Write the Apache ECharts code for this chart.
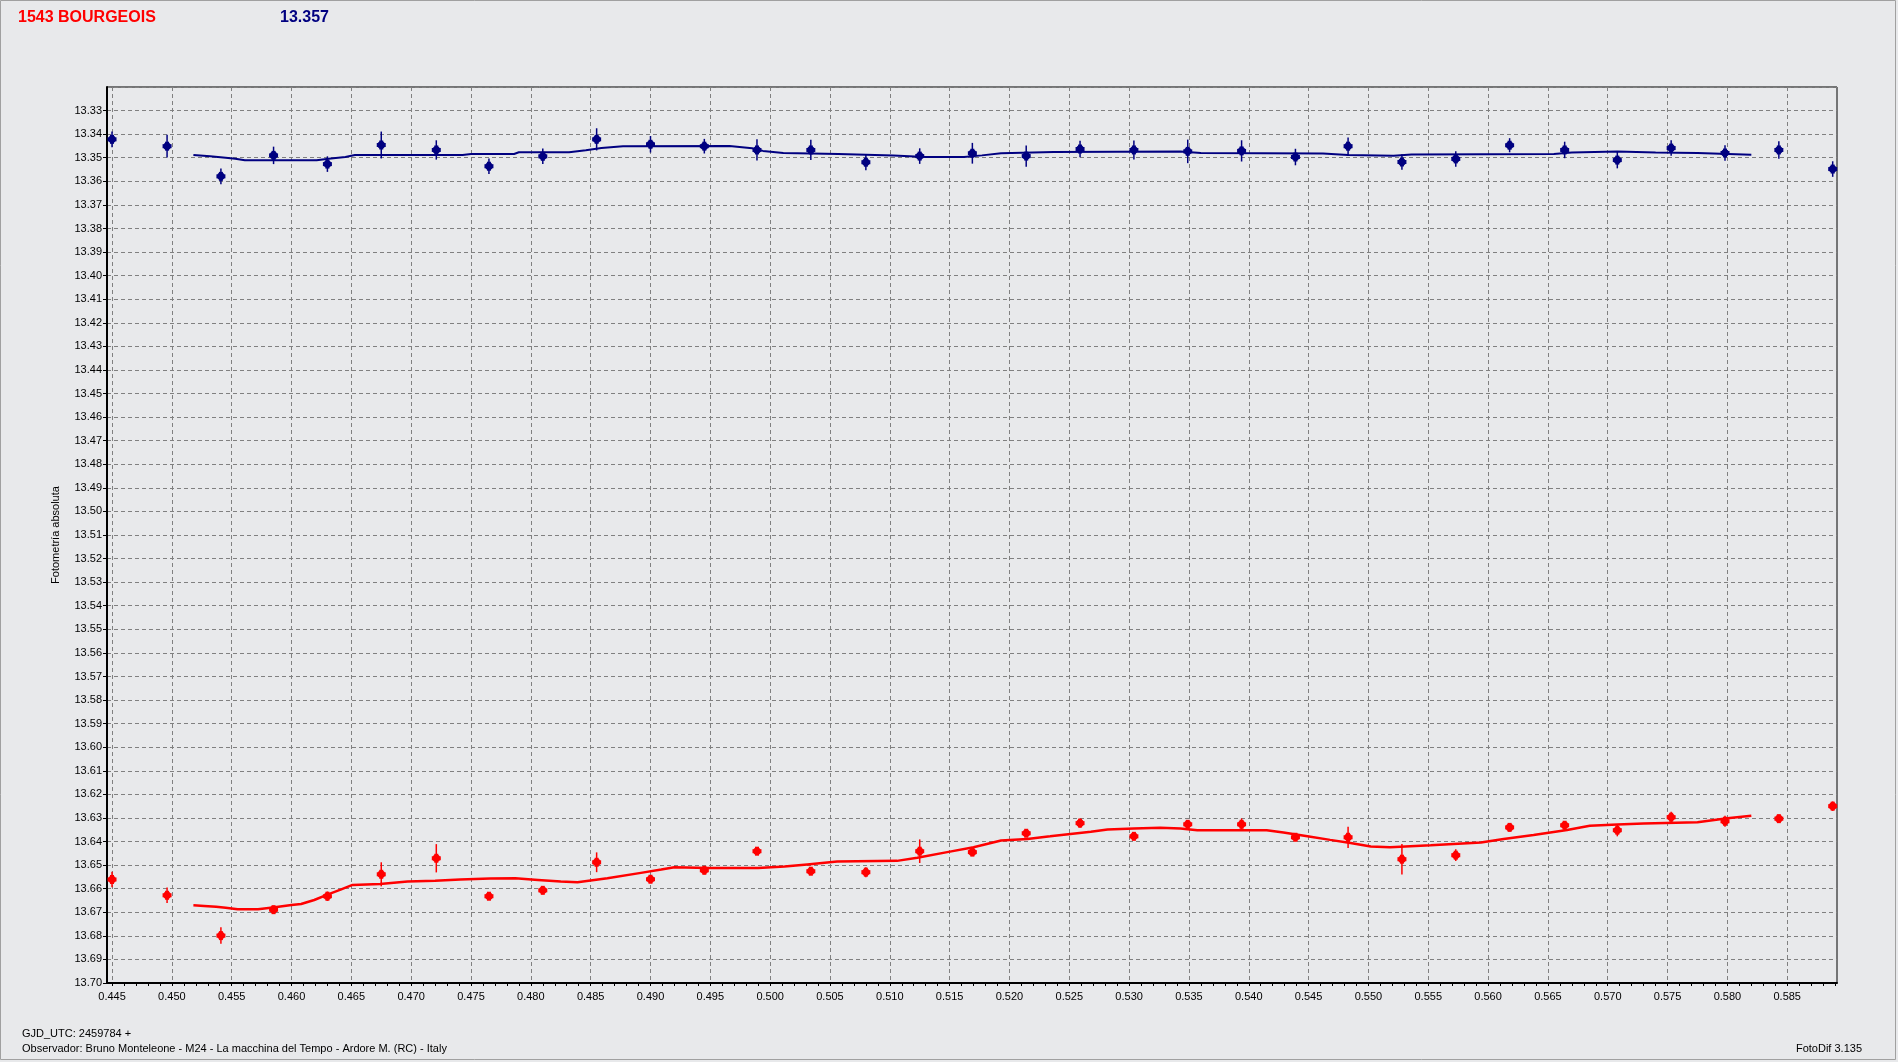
<!DOCTYPE html>
<html><head><meta charset="utf-8">
<script src="https://cdn.jsdelivr.net/npm/echarts@6/dist/echarts.min.js"></script>
<style>html,body{margin:0;padding:0;background:#E8E9EB;} #c{width:1898px;height:1062px;}</style>
</head><body><div id="c"></div>
<script>
// Observation times (GJD_UTC - 2459784)
const times = [0.4450,0.4496,0.4541,0.4585,0.4630,0.4675,0.4721,0.4765,0.4810,0.4855,0.4900,0.4945,0.4989,0.5034,0.5080,0.5125,0.5169,0.5214,0.5259,0.5304,0.5349,0.5394,0.5439,0.5483,0.5528,0.5573,0.5618,0.5664,0.5708,0.5753,0.5798,0.5843,0.5888];
// Target (red) magnitudes and errors
const redMag = [13.6561,13.6628,13.6799,13.6689,13.6632,13.6539,13.6471,13.6632,13.6607,13.6488,13.6560,13.6522,13.6441,13.6526,13.6530,13.6441,13.6445,13.6365,13.6322,13.6378,13.6327,13.6327,13.6382,13.6382,13.6475,13.6458,13.6340,13.6331,13.6352,13.6297,13.6314,13.6303,13.6250];
const redErr = [0.0033,0.0033,0.0035,0.0014,0.0020,0.0051,0.0060,0.0010,0.0016,0.0042,0.0013,0.0017,0.0016,0.0014,0.0021,0.0050,0.0014,0.0016,0.0020,0.0014,0.0016,0.0025,0.0014,0.0045,0.0065,0.0025,0.0014,0.0018,0.0026,0.0023,0.0023,0.0014,0.0020];
// Comparison (blue) magnitudes and errors
const blueMag = [13.3422,13.3451,13.3579,13.3490,13.3527,13.3446,13.3467,13.3536,13.3494,13.3422,13.3443,13.3451,13.3467,13.3467,13.3519,13.3493,13.3481,13.3493,13.3463,13.3467,13.3473,13.3471,13.3497,13.3451,13.3518,13.3505,13.3447,13.3467,13.3510,13.3459,13.3480,13.3467,13.3548];
const blueErr = [0.0033,0.0048,0.0033,0.0037,0.0033,0.0057,0.0041,0.0033,0.0033,0.0047,0.0035,0.0031,0.0045,0.0043,0.0034,0.0033,0.0044,0.0045,0.0035,0.0040,0.0050,0.0045,0.0035,0.0037,0.0033,0.0033,0.0030,0.0035,0.0035,0.0033,0.0033,0.0037,0.0033];
// Fitted curves
const redFitX = [0.4518,0.4527,0.4537,0.4545,0.4555,0.4572,0.4586,0.4600,0.4608,0.4619,0.4630,0.4641,0.4651,0.4674,0.4697,0.4720,0.4741,0.4766,0.4787,0.4806,0.4825,0.4839,0.4864,0.4892,0.4909,0.4920,0.4948,0.4990,0.5012,0.5031,0.5056,0.5106,0.5123,0.5148,0.5170,0.5193,0.5215,0.5234,0.5251,0.5268,0.5282,0.5304,0.5326,0.5343,0.5357,0.5415,0.5429,0.5449,0.5468,0.5485,0.5502,0.5518,0.5552,0.5594,0.5613,0.5638,0.5666,0.5685,0.5708,0.5730,0.5775,0.5800,0.5820];
const redFitY = [13.6670,13.6673,13.6677,13.6681,13.6687,13.6687,13.6679,13.6669,13.6665,13.6648,13.6625,13.6604,13.6584,13.6580,13.6570,13.6566,13.6561,13.6557,13.6556,13.6563,13.6570,13.6573,13.6556,13.6533,13.6519,13.6509,13.6512,13.6512,13.6506,13.6497,13.6485,13.6482,13.6469,13.6445,13.6424,13.6396,13.6389,13.6378,13.6368,13.6359,13.6349,13.6345,13.6342,13.6345,13.6352,13.6352,13.6362,13.6378,13.6393,13.6406,13.6421,13.6424,13.6416,13.6404,13.6389,13.6372,13.6351,13.6333,13.6328,13.6324,13.6318,13.6301,13.6291];
const blueFitX = [0.4518,0.4532,0.4545,0.4553,0.4561,0.4621,0.4631,0.4645,0.4653,0.4743,0.4750,0.4786,0.4790,0.4832,0.4846,0.4859,0.4877,0.4966,0.4985,0.4994,0.5011,0.5057,0.5103,0.5130,0.5162,0.5177,0.5193,0.5237,0.5343,0.5360,0.5462,0.5483,0.5521,0.5536,0.5655,0.5670,0.5708,0.5740,0.5775,0.5820];
const blueFitY = [13.3488,13.3494,13.3500,13.3504,13.3511,13.3511,13.3504,13.3497,13.3488,13.3488,13.3484,13.3484,13.3477,13.3477,13.3468,13.3459,13.3451,13.3450,13.3460,13.3471,13.3480,13.3484,13.3490,13.3497,13.3497,13.3490,13.3481,13.3476,13.3474,13.3480,13.3482,13.3488,13.3492,13.3486,13.3484,13.3478,13.3474,13.3478,13.3480,13.3487];
// Axis ticks
const xMajorTicks = [0.445,0.450,0.455,0.460,0.465,0.470,0.475,0.480,0.485,0.490,0.495,0.500,0.505,0.510,0.515,0.520,0.525,0.530,0.535,0.540,0.545,0.550,0.555,0.560,0.565,0.570,0.575,0.580,0.585];
const xMinorStep = 0.001;
const xMin = 0.44458, xMax = 0.58916;
const yMin = 13.32, yMax = 13.70, yStep = 0.01;

// minor ticks every 0.001 between the labelled ticks
const xMinorTicks = [];
xMajorTicks.forEach(m => { for (let k = 0; k < 5; k++) { const v = +(m + k * xMinorStep).toFixed(4); if (v <= xMax) xMinorTicks.push(v); } });

const RED = '#FF0000', BLUE = '#000080';
const FONT = '"Liberation Sans", Arial, sans-serif';

function errRender(color) {
  return function (params, api) {
    const x = api.value(0), y = api.value(1), e = api.value(2);
    const p = api.coord([x, y]);
    const a = api.coord([x, y - e]);
    const b = api.coord([x, y + e]);
    return {
      type: 'group',
      children: [
        { type: 'line', shape: { x1: a[0], y1: a[1], x2: b[0], y2: b[1] }, style: { stroke: color, lineWidth: 1.5 } },
        { type: 'circle', shape: { cx: p[0], cy: p[1], r: 3.8 }, style: { fill: color } },
        { type: 'rect', shape: { x: p[0] - 4.5, y: p[1] - 2, width: 9, height: 4 }, style: { fill: color } },
        { type: 'rect', shape: { x: p[0] - 2, y: p[1] - 4.5, width: 4, height: 9 }, style: { fill: color } }
      ]
    };
  };
}

const chart = echarts.init(document.getElementById('c'), null, { renderer: 'canvas' });
chart.setOption({
  animation: false,
  backgroundColor: '#E8E9EB',
  grid: { left: 107, right: 61, top: 87, bottom: 79, show: true, borderColor: '#000', borderWidth: 1, backgroundColor: 'transparent' },
  xAxis: [{
    type: 'value', min: xMin, max: xMax, position: 'bottom',
    axisLine: { show: true, onZero: false, lineStyle: { color: '#000', width: 2 } },
    axisTick: { show: true, length: 3, customValues: xMajorTicks, lineStyle: { color: '#000' } },
    axisLabel: { customValues: xMajorTicks, formatter: v => v.toFixed(3), fontSize: 11, fontFamily: FONT, color: '#000', margin: 8 },
    splitLine: { show: true, lineStyle: { type: [4, 3], color: '#808080', width: 1 } }
  }, {
    type: 'value', min: xMin, max: xMax, position: 'bottom',
    axisLine: { show: false },
    axisTick: { show: true, length: 3, customValues: xMinorTicks, lineStyle: { color: '#000' } },
    axisLabel: { show: false },
    splitLine: { show: false }
  }],
  yAxis: {
    type: 'value', inverse: true, min: yMin, max: yMax, interval: yStep,
    axisLine: { show: true, onZero: false, lineStyle: { color: '#000', width: 2 } },
    axisTick: { show: true, length: 4, lineStyle: { color: '#000' } },
    axisLabel: { showMinLabel: false, formatter: v => v.toFixed(2), fontSize: 11, fontFamily: FONT, color: '#000', margin: 5 },
    splitLine: { show: true, lineStyle: { type: [4, 3], color: '#808080', width: 1 } },
    name: 'Fotometría absoluta', nameLocation: 'middle', nameGap: 46,
    nameTextStyle: { fontSize: 11, fontFamily: FONT, color: '#000' }
  },
  graphic: [
    { type: 'rect', shape: { x: 0.5, y: 0.5, width: 1895, height: 1059 }, style: { fill: 'none', stroke: '#A0A0A0', lineWidth: 1 }, silent: true },
    { type: 'text', left: 18, top: 10, style: { text: '1543 BOURGEOIS', font: 'bold 16px ' + FONT, fill: RED } },
    { type: 'text', left: 280, top: 10, style: { text: '13.357', font: 'bold 16px ' + FONT, fill: BLUE } },
    { type: 'text', left: 22, top: 1028, style: { text: 'GJD_UTC: 2459784 +', font: '11px ' + FONT, fill: '#000' } },
    { type: 'text', left: 22, top: 1043, style: { text: 'Observador: Bruno Monteleone - M24 - La macchina del Tempo - Ardore M. (RC) - Italy', font: '11px ' + FONT, fill: '#000' } },
    { type: 'text', right: 36, top: 1043, style: { text: 'FotoDif 3.135', font: '11px ' + FONT, fill: '#000' } }
  ],
  series: [
    { type: 'line', xAxisIndex: 0, data: blueFitX.map((x, i) => [x, blueFitY[i]]), showSymbol: false, lineStyle: { color: BLUE, width: 2 }, z: 3 },
    { type: 'line', xAxisIndex: 0, data: redFitX.map((x, i) => [x, redFitY[i]]), showSymbol: false, lineStyle: { color: RED, width: 2.5 }, z: 3 },
    { type: 'custom', xAxisIndex: 0, renderItem: errRender(BLUE), encode: { x: 0, y: 1 }, data: times.map((t, i) => [t, blueMag[i], blueErr[i]]), z: 4 },
    { type: 'custom', xAxisIndex: 0, renderItem: errRender(RED), encode: { x: 0, y: 1 }, data: times.map((t, i) => [t, redMag[i], redErr[i]]), z: 4 }
  ]
});
</script>
</body></html>
